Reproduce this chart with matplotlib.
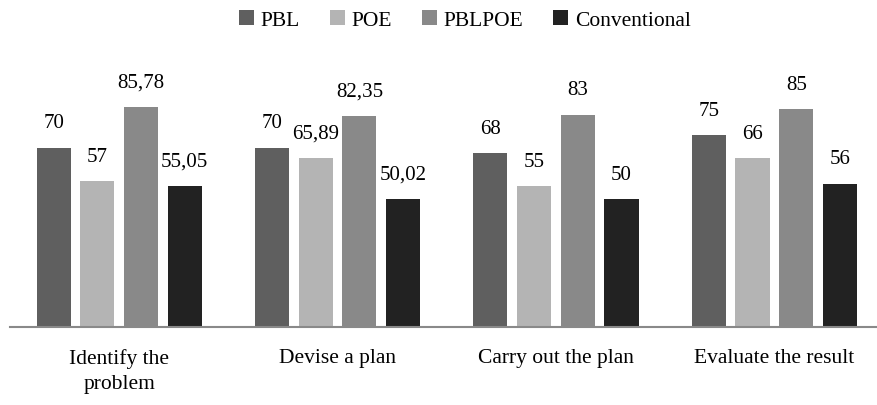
import numpy as np
import matplotlib.pyplot as plt

categories = ['Identify the\nproblem', 'Devise a plan', 'Carry out the plan', 'Evaluate the result']
series = ['PBL', 'POE', 'PBLPOE', 'Conventional']
pbl = [70, 70, 68, 75]
poe = [57, 65.89, 55, 66]
pblpoe = [85.78, 82.35, 83, 85]
conventional = [55.05, 50.02, 50, 56]
colors = ['#5f5f5f', '#b4b4b4', '#898989', '#222222']

plt.rcParams['font.family'] = ['Liberation Serif', 'DejaVu Serif']

fig = plt.figure(figsize=(8.77, 4.06), dpi=100)
ax = fig.add_axes([10 / 877, 78 / 406, 867 / 877, 256 / 406])

x = np.arange(len(categories))
width = 0.156
step = 0.2
for i, (name, vals) in enumerate(zip(series, [pbl, poe, pblpoe, conventional])):
    pos = x + (i - 1.5) * step
    bars = ax.bar(pos, vals, width, color=colors[i], label=name)
    for b, v in zip(bars, vals):
        txt = f'{v:g}'.replace('.', ',') if v != int(v) else str(int(v))
        ax.text(b.get_x() + b.get_width() / 2, v + 6, txt, ha='center', va='bottom', fontsize=15)

ax.set_xlim(-0.5, 3.47)
ax.set_ylim(0, 100)
ax.set_xticks(x)
ax.set_xticklabels(categories, fontsize=15.5, linespacing=1.45)
ax.tick_params(axis='x', length=0, pad=15)
ax.set_yticks([])
for s in ['top', 'right', 'left']:
    ax.spines[s].set_visible(False)
ax.spines['bottom'].set_color('#898989')
ax.spines['bottom'].set_linewidth(1.5)

fig.legend(loc='upper center', bbox_to_anchor=(0.53, 1.02), ncol=4, frameon=False,
           fontsize=15.5, handlelength=0.7, handleheight=0.7, handletextpad=0.3, columnspacing=1.4)

fig.savefig('out.png')
